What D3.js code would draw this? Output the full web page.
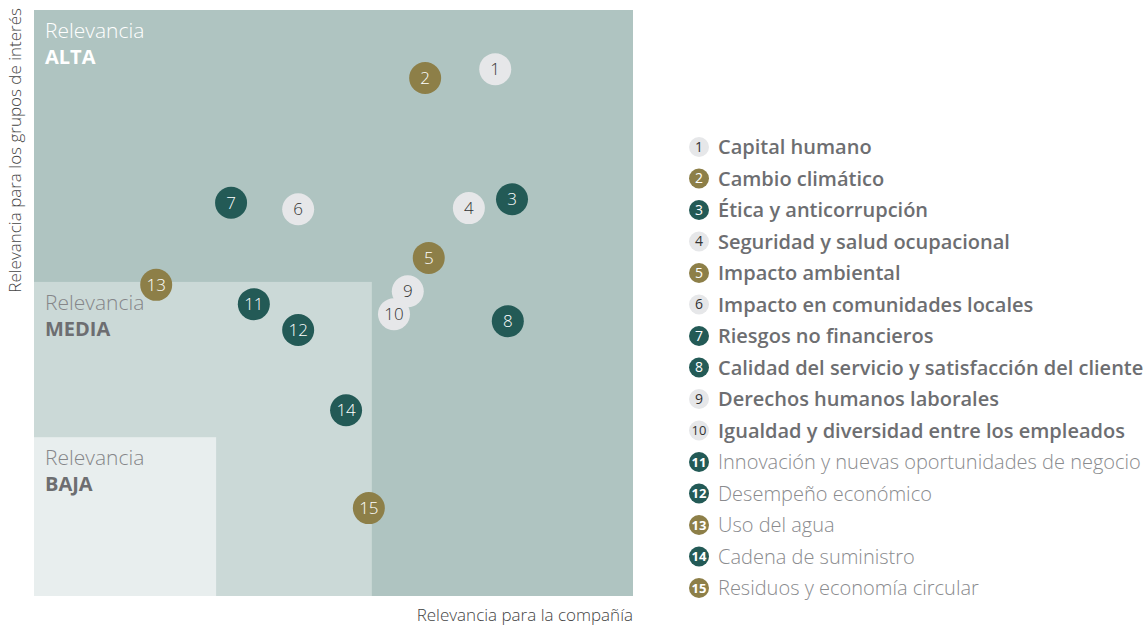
<!DOCTYPE html>
<html>
<head>
<meta charset="utf-8">
<script src="https://cdn.jsdelivr.net/npm/d3@7"></script>
<style>
  body { margin: 0; background: #fff; }
  svg { font-family: "Open Sans", "Noto Sans", sans-serif; }
</style>
</head>
<body>
<div id="chart"></div>
<script>
// issue numbers, names and positions (0-100 scale on both axes)
const ids = [1, 2, 3, 4, 5, 6, 7, 8, 9, 10, 11, 12, 13, 14, 15];
const names = [
  "Capital humano",
  "Cambio climático",
  "Ética y anticorrupción",
  "Seguridad y salud ocupacional",
  "Impacto ambiental",
  "Impacto en comunidades locales",
  "Riesgos no financieros",
  "Calidad del servicio y satisfacción del cliente",
  "Derechos humanos laborales",
  "Igualdad y diversidad entre los empleados",
  "Innovación y nuevas oportunidades de negocio",
  "Desempeño económico",
  "Uso del agua",
  "Cadena de suministro",
  "Residuos y economía circular"
];
const companyScore = [77.0, 65.3, 79.8, 72.6, 65.9, 44.1, 32.9, 79.1, 62.4, 60.1, 36.7, 44.1, 20.4, 52.1, 55.9];
const stakeholderScore = [89.9, 88.4, 67.7, 66.2, 57.7, 66.0, 67.1, 46.9, 52.0, 48.1, 49.8, 45.4, 53.1, 31.7, 15.0];
const groups = ["light", "olive", "dark", "light", "olive", "light", "dark", "dark", "light", "light", "dark", "dark", "olive", "dark", "olive"];

// relevance zones: upper bound of x and y for each
const zoneNames = ["ALTA", "MEDIA", "BAJA"];
const zoneMaxX = [100, 56.4, 30.4];
const zoneMaxY = [100, 53.6, 27.1];

const width = 1147, height = 628;
const plot = {left: 34, top: 10, right: 633, bottom: 596};

const svg = d3.select("#chart").append("svg")
  .attr("width", width)
  .attr("height", height);

const x = d3.scaleLinear().domain([0, 100]).range([plot.left, plot.right]);
const y = d3.scaleLinear().domain([0, 100]).range([plot.bottom, plot.top]);

const zoneFill = d3.scaleOrdinal().domain(zoneNames).range(["#afc4c1", "#cbd9d7", "#e8eeee"]);
const zoneText = d3.scaleOrdinal().domain(zoneNames).range(["#ffffff", "#858689", "#858689"]);
const zoneBold = d3.scaleOrdinal().domain(zoneNames).range(["#ffffff", "#6d6e71", "#6d6e71"]);
const dotFill = d3.scaleOrdinal().domain(["light", "olive", "dark"]).range(["#e6e7e9", "#8d7f48", "#235a56"]);
const dotText = d3.scaleOrdinal().domain(["light", "olive", "dark"]).range(["#333333", "#ffffff", "#ffffff"]);

const zones = zoneNames.map((n, i) => ({name: n, mx: zoneMaxX[i], my: zoneMaxY[i]}));

const zoneG = svg.append("g").attr("class", "zones");
zoneG.selectAll("rect").data(zones).enter()
  .append("rect")
  .attr("x", x(0))
  .attr("y", d => y(d.my))
  .attr("width", d => x(d.mx) - x(0))
  .attr("height", d => y(0) - y(d.my))
  .attr("fill", d => zoneFill(d.name));

zoneG.selectAll(".zone-rel").data(zones).enter()
  .append("text")
  .attr("class", "zone-rel")
  .attr("x", x(0) + 11)
  .attr("y", d => y(d.my) + 28)
  .attr("font-size", 21)
  .attr("font-weight", 300)
  .attr("fill", d => zoneText(d.name))
  .text("Relevancia");

zoneG.selectAll(".zone-name").data(zones).enter()
  .append("text")
  .attr("class", "zone-name")
  .attr("x", x(0) + 11)
  .attr("y", d => y(d.my) + 54)
  .attr("font-size", 20)
  .attr("font-weight", 700)
  .attr("fill", d => zoneBold(d.name))
  .text(d => d.name);

// axis titles
svg.append("text")
  .attr("transform", "translate(21," + (plot.top - 2) + ") rotate(-90)")
  .attr("text-anchor", "end")
  .attr("font-size", 17)
  .attr("font-weight", 300)
  .attr("fill", "#444")
  .text("Relevancia para los grupos de interés");

svg.append("text")
  .attr("x", plot.right)
  .attr("y", 621)
  .attr("text-anchor", "end")
  .attr("font-size", 17)
  .attr("font-weight", 300)
  .attr("fill", "#444")
  .text("Relevancia para la compañía");

// points
const points = ids.map((id, i) => ({id: id, name: names[i], cx: companyScore[i], cy: stakeholderScore[i], g: groups[i]}));

const dots = svg.append("g").attr("class", "dots")
  .selectAll("g").data(points).enter()
  .append("g")
  .attr("transform", d => "translate(" + x(d.cx) + "," + y(d.cy) + ")");

dots.append("circle")
  .attr("r", 16)
  .attr("fill", d => dotFill(d.g));

dots.append("text")
  .attr("text-anchor", "middle")
  .attr("dy", "0.35em")
  .attr("font-size", 17)
  .attr("font-weight", 300)
  .attr("fill", d => dotText(d.g))
  .text(d => d.id);

// legend
const legend = svg.append("g").attr("class", "legend")
  .selectAll("g").data(points).enter()
  .append("g")
  .attr("transform", (d, i) => "translate(699," + (147 + i * 31.5) + ")");

legend.append("circle")
  .attr("r", 10)
  .attr("fill", d => dotFill(d.g));

legend.append("text")
  .attr("text-anchor", "middle")
  .attr("dy", "0.35em")
  .attr("font-size", d => d.id >= 10 ? 13 : 14)
  .attr("font-weight", d => d.id >= 11 ? 700 : 400)
  .attr("fill", d => dotText(d.g))
  .text(d => d.id);

legend.append("text")
  .attr("x", 19)
  .attr("dy", "0.35em")
  .attr("font-size", 20)
  .attr("font-weight", d => d.id <= 10 ? 600 : 300)
  .attr("fill", d => d.id <= 10 ? "#6d6e71" : "#8a8b8e")
  .text(d => d.name);
</script>
</body>
</html>
